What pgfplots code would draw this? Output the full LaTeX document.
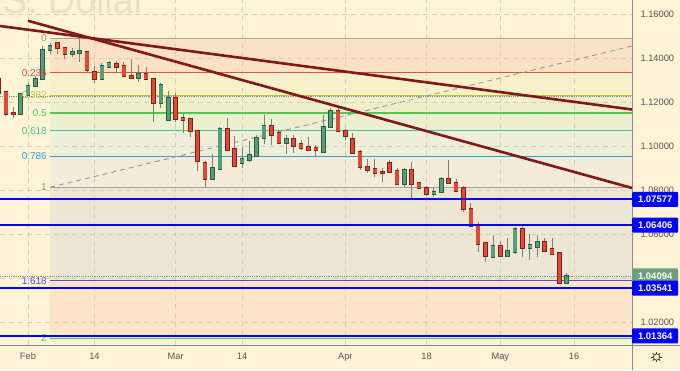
\documentclass[border=0pt]{standalone}
\usepackage{fontspec}
\setmainfont{Liberation Sans}
\usepackage{pgfplots}
\usepackage{pgfplotstable}
\pgfplotsset{compat=1.18}

\definecolor{bg}{RGB}{255,243,214}
\definecolor{wm}{RGB}{236,223,194}
\definecolor{gridc}{RGB}{214,207,190}
\definecolor{fA}{RGB}{251,226,196}
\definecolor{fB}{RGB}{247,240,200}
\definecolor{fC}{RGB}{240,240,200}
\definecolor{fD}{RGB}{236,239,208}
\definecolor{fE}{RGB}{238,239,216}
\definecolor{fF}{RGB}{242,236,216}
\definecolor{fG}{RGB}{238,230,212}
\definecolor{fH}{RGB}{251,228,200}
\definecolor{lv0}{RGB}{168,162,150}
\definecolor{lv236}{RGB}{224,80,72}
\definecolor{lv382}{RGB}{176,200,60}
\definecolor{lv5}{RGB}{80,200,80}
\definecolor{lv618}{RGB}{70,196,150}
\definecolor{lv786}{RGB}{58,154,217}
\definecolor{lv1618}{RGB}{80,80,210}
\definecolor{lv2}{RGB}{60,200,160}
\definecolor{blueL}{RGB}{0,0,255}
\definecolor{maroonL}{RGB}{128,24,24}
\definecolor{gfill}{RGB}{86,157,120}
\definecolor{gbord}{RGB}{40,95,65}
\definecolor{rfill}{RGB}{226,72,56}
\definecolor{rbord}{RGB}{125,35,25}
\definecolor{wick}{RGB}{128,128,118}
\definecolor{tickc}{RGB}{85,85,85}
\definecolor{curp}{RGB}{108,158,126}
\definecolor{axl}{RGB}{140,140,140}

% green candles: i, body low, body high, low, high
\pgfplotstableread{
i lo hi l h
-1 1.11454 1.12363 1.11409 1.12409
0 1.12318 1.12727 1.12272 1.12863
1 1.12727 1.13045 1.12681 1.13181
2 1.13045 1.14363 1.13000 1.14545
3 1.14363 1.14545 1.14181 1.14681
6 1.14181 1.14272 1.14045 1.14454
7 1.14227 1.14318 1.13818 1.14909
10 1.13045 1.13636 1.13000 1.13772
11 1.13591 1.13772 1.13545 1.13863
15 1.13091 1.13272 1.12909 1.13681
18 1.11954 1.12772 1.11727 1.12863
19 1.11181 1.12181 1.11136 1.12499
25 1.08500 1.08999 1.08454 1.09636
26 1.08954 1.10772 1.08909 1.10863
29 1.09227 1.09409 1.09000 1.09954
30 1.09363 1.09591 1.09272 1.10227
31 1.09545 1.10363 1.09500 1.10500
32 1.10363 1.10909 1.10090 1.11409
35 1.10136 1.10318 1.09636 1.10500
40 1.09727 1.10863 1.09682 1.11409
41 1.10863 1.11591 1.10818 1.11727
51 1.08272 1.08909 1.08136 1.09000
55 1.07818 1.07909 1.07681 1.08136
56 1.07909 1.08500 1.07863 1.08590
63 1.04954 1.05454 1.04909 1.05954
65 1.05000 1.05227 1.04954 1.05818
66 1.05181 1.06227 1.05090 1.06318
68 1.05363 1.05500 1.04818 1.06000
69 1.05409 1.05636 1.04954 1.05954
73 1.03770 1.04091 1.03727 1.04227
}\greentab

% red candles: i, body low, body high, low, high
\pgfplotstableread{
i lo hi l h
-4 1.12409 1.13045 1.12318 1.13136
-3 1.11454 1.12454 1.11363 1.12454
-2 1.11454 1.11500 1.11272 1.11772
4 1.14454 1.14681 1.14181 1.14727
5 1.14181 1.14454 1.13954 1.14500
8 1.13454 1.14272 1.13363 1.14318
9 1.13045 1.13363 1.12863 1.13636
12 1.13591 1.13727 1.13318 1.13863
13 1.13181 1.13636 1.13136 1.13818
14 1.13091 1.13181 1.13045 1.13954
16 1.13045 1.13272 1.13000 1.13591
17 1.11954 1.13045 1.11091 1.13091
20 1.11227 1.12181 1.11091 1.12409
21 1.11181 1.11272 1.10591 1.11454
22 1.10681 1.11227 1.10409 1.11272
23 1.09318 1.10681 1.08863 1.10681
24 1.08500 1.09227 1.08136 1.09318
27 1.09818 1.10772 1.09772 1.11272
28 1.09091 1.09863 1.09045 1.10454
33 1.10500 1.10909 1.10045 1.11227
34 1.10136 1.10591 1.10090 1.10727
36 1.10000 1.10318 1.09682 1.10500
37 1.09909 1.10090 1.09818 1.10272
38 1.09818 1.09954 1.09772 1.10409
39 1.09818 1.09909 1.09500 1.10045
42 1.10681 1.11591 1.10636 1.11772
43 1.10454 1.10681 1.10272 1.10772
44 1.09682 1.10318 1.09636 1.10591
45 1.09045 1.09727 1.08909 1.09818
46 1.08909 1.09045 1.08772 1.09409
47 1.08772 1.08954 1.08590 1.09409
48 1.08772 1.08818 1.08363 1.09000
49 1.08818 1.09227 1.08772 1.09363
50 1.08272 1.08863 1.08227 1.09000
52 1.08272 1.08909 1.07636 1.09272
53 1.08090 1.08318 1.08045 1.08363
54 1.07818 1.08090 1.07727 1.08181
57 1.08318 1.08500 1.08272 1.09363
58 1.07954 1.08318 1.07909 1.08500
59 1.07136 1.08090 1.07000 1.08181
60 1.06363 1.07136 1.06318 1.07409
61 1.05545 1.06409 1.05180 1.06545
62 1.05000 1.05590 1.04727 1.05636
64 1.05000 1.05454 1.04954 1.05681
67 1.05363 1.06227 1.04954 1.06409
70 1.05227 1.05636 1.05180 1.05818
71 1.05090 1.05318 1.05045 1.05818
72 1.03770 1.05136 1.03727 1.05180
}\redtab

\pgfplotsset{
  wickplot/.style={forget plot, draw=none, mark=none,
    error bars/.cd, y dir=plus, y explicit, error mark=none,
    error bar style={draw=wick, line width=0.9pt, solid}},
  bodyplot/.style={forget plot, draw=none, mark=none,
    error bars/.cd, y dir=plus, y explicit, error mark=none,
    error bar style={draw=#1, line width=4.6pt, solid}},
  fillplot/.style={forget plot, draw=none, mark=none,
    error bars/.cd, y dir=plus, y explicit, error mark=none,
    error bar style={draw=#1, line width=3.4pt, solid}},
}

\tikzset{
  gridl/.style={draw=gridc, line width=0.7pt, dash pattern=on 5pt off 4pt},
  flab/.style={anchor=east, inner sep=0pt, font=\fontsize{10}{12}\selectfont},
  pbox/.style={anchor=west, inner sep=0pt, minimum width=46pt, minimum height=15pt, rounded corners=1pt, text=white, font=\bfseries\fontsize{9.5}{11}\selectfont},
}

\begin{document}
\begin{tikzpicture}
\useasboundingbox (0,0) rectangle (680pt,370pt);
\clip (0,0) rectangle (680pt,370pt);
\fill[bg] (0,0) rectangle (680pt,370pt);
\node[anchor=base east, inner sep=0pt, font=\fontsize{37.5}{40}\selectfont, text=wm] at (38pt,356pt) {U.S.};
\node[anchor=base west, inner sep=0pt, font=\fontsize{37.5}{40}\selectfont, text=wm] at (48pt,356pt) {Dollar};

\begin{axis}[
  at={(0pt,25pt)}, anchor=south west,
  width=632pt, height=345pt, scale only axis,
  xmin=-3.794, xmax=81.84, ymin=1.00954, ymax=1.16636,
  axis line style={draw=none},
  major tick length=0pt,
  xtick={0,9,20,29,43,54,64,74},
  xticklabels={Feb,14,Mar,14,Apr,18,May,16},
  ytick={1.02,1.04,1.06,1.08,1.1,1.12,1.14,1.16},
  yticklabel pos=right,
  scaled y ticks=false,
  /pgf/number format/assume math mode=true,
  yticklabel style={/pgf/number format/fixed, /pgf/number format/fixed zerofill, /pgf/number format/precision=5, anchor=west, xshift=5pt},
  xticklabel style={anchor=base, yshift=-14.3pt},
  tick label style={font=\fontsize{9.3}{11}\selectfont, text=tickc},
  clip mode=individual,
]
% fib bands
\fill[fA] (axis cs:2.98,1.14895) rectangle (axis cs:81.84,1.13322);
\fill[fB] (axis cs:2.98,1.13322) rectangle (axis cs:81.84,1.12295);
\fill[fC] (axis cs:2.98,1.12295) rectangle (axis cs:81.84,1.11500);
\fill[fD] (axis cs:2.98,1.11500) rectangle (axis cs:81.84,1.10695);
\fill[fE] (axis cs:2.98,1.10695) rectangle (axis cs:81.84,1.09545);
\fill[fF] (axis cs:2.98,1.09545) rectangle (axis cs:81.84,1.08113);
\fill[fG] (axis cs:2.98,1.08113) rectangle (axis cs:81.84,1.03877);
\fill[fH] (axis cs:2.98,1.03877) rectangle (axis cs:81.84,1.01259);
% grid
\pgfplotsinvokeforeach{0,9,20,29,43,54,64,74}{\draw[gridl] (axis cs:#1,1.00954) -- (axis cs:#1,1.16636);}
\pgfplotsinvokeforeach{1.02,1.04,1.06,1.08,1.10,1.12,1.14,1.16}{\draw[gridl] (axis cs:-3.794,#1) -- (axis cs:81.84,#1);}
% fib levels
\addplot[lv0, line width=1.6pt] coordinates {(2.98,1.14895) (81.84,1.14895)};
\addplot[lv236, line width=0.9pt] coordinates {(2.98,1.13322) (81.84,1.13322)};
\addplot[lv382, line width=0.9pt] coordinates {(2.98,1.12295) (81.84,1.12295)};
\addplot[lv5, line width=1.3pt] coordinates {(2.98,1.11500) (81.84,1.11500)};
\addplot[lv618, line width=0.9pt] coordinates {(2.98,1.10695) (81.84,1.10695)};
\addplot[lv786, line width=0.9pt] coordinates {(2.98,1.09545) (81.84,1.09545)};
\addplot[lv0, line width=1.6pt] coordinates {(2.98,1.08113) (81.84,1.08113)};
\addplot[lv1618, line width=0.9pt] coordinates {(2.98,1.03877) (81.84,1.03877)};
\addplot[lv2, line width=0.9pt] coordinates {(2.98,1.01259) (81.84,1.01259)};
% dotted price lines
\addplot[curp, line width=0.8pt, densely dotted] coordinates {(-3.794,1.04094) (81.84,1.04094)};
\addplot[black!45, line width=0.8pt, densely dotted] coordinates {(-3.794,1.12241) (81.84,1.12241)};
% fib trend (dashed)
\addplot[black!40, line width=0.9pt, dash pattern=on 5pt off 4pt] coordinates {(2.98,1.08122) (81.84,1.14545)};
% candles: wicks, body borders, body fills
\addplot[wickplot] table[x=i, y=l, y error expr=\thisrow{h}-\thisrow{l}] {\greentab};
\addplot[wickplot] table[x=i, y=l, y error expr=\thisrow{h}-\thisrow{l}] {\redtab};
\addplot[bodyplot=gbord] table[x=i, y expr=\thisrow{lo}-0.00027, y error expr=\thisrow{hi}-\thisrow{lo}+0.00054] {\greentab};
\addplot[bodyplot=rbord] table[x=i, y expr=\thisrow{lo}-0.00027, y error expr=\thisrow{hi}-\thisrow{lo}+0.00054] {\redtab};
\addplot[fillplot=gfill] table[x=i, y=lo, y error expr=\thisrow{hi}-\thisrow{lo}] {\greentab};
\addplot[fillplot=rfill] table[x=i, y=lo, y error expr=\thisrow{hi}-\thisrow{lo}] {\redtab};
% fib labels (over candles)
\node[flab, text=lv0!90!black] at (axis cs:2.575,1.14895) {0};
\node[flab, text=lv236] at (axis cs:2.575,1.13322) {0.236};
\node[flab, text=lv382] at (axis cs:2.575,1.12295) {0.382};
\node[flab, text=lv5] at (axis cs:2.575,1.11500) {0.5};
\node[flab, text=lv618] at (axis cs:2.575,1.10695) {0.618};
\node[flab, text=lv786] at (axis cs:2.575,1.09545) {0.786};
\node[flab, text=lv0!90!black] at (axis cs:2.575,1.08113) {1};
\node[flab, text=lv1618] at (axis cs:2.575,1.03877) {1.618};
\node[flab, text=lv2] at (axis cs:2.575,1.01259) {2};
% horizontal blue levels
\addplot[blueL, line width=2pt] coordinates {(-3.794,1.07577) (81.84,1.07577)};
\addplot[blueL, line width=2pt] coordinates {(-3.794,1.06406) (81.84,1.06406)};
\addplot[blueL, line width=2pt] coordinates {(-3.794,1.03541) (81.84,1.03541)};
\addplot[blueL, line width=2pt] coordinates {(-3.794,1.01364) (81.84,1.01364)};
% trend lines
\addplot[maroonL, line width=2.6pt] coordinates {(0,1.15691) (81.84,1.08091)};
\addplot[maroonL, line width=2.6pt] coordinates {(-3.794,1.15454) (81.84,1.11659)};
% anchors for price boxes
\coordinate (p1) at (axis cs:81.84,1.07577);
\coordinate (p2) at (axis cs:81.84,1.06406);
\coordinate (p3) at (axis cs:81.84,1.04094);
\coordinate (p4) at (axis cs:81.84,1.03541);
\coordinate (p5) at (axis cs:81.84,1.01364);
\end{axis}

\draw[axl, line width=1pt] (0,25pt) -- (680pt,25pt);
\draw[axl, line width=1pt] (632pt,0) -- (632pt,370pt);
\node[pbox, fill=blueL] at (p1) {1.07577};
\node[pbox, fill=blueL] at (p2) {1.06406};
\node[pbox, fill=curp] at (p3) {1.04094};
\node[pbox, fill=blueL] at (p4) {1.03541};
\node[pbox, fill=blueL] at (p5) {1.01364};
% settings icon
\begin{scope}[shift={(656.5pt,13pt)}]
\draw[black!75, line width=0.8pt] (0,0) circle (3.2pt);
\foreach \a in {0,45,...,315} \draw[black!75, line width=1pt] (\a:3.2pt) -- (\a:5.2pt);
\end{scope}
\end{tikzpicture}
\end{document}
